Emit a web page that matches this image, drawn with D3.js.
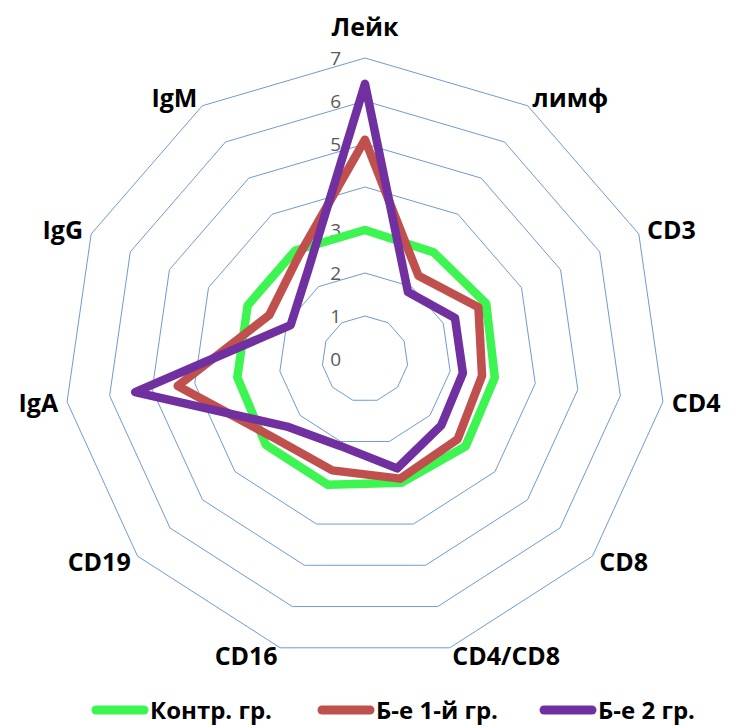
<!DOCTYPE html>
<html>
<head>
<meta charset="utf-8">
<script src="https://cdn.jsdelivr.net/npm/d3@7"></script>
<style>
  html, body { margin: 0; padding: 0; background: #fff; }
  svg { display: block; }
</style>
</head>
<body>
<svg id="chart" width="732" height="725"></svg>
<script>
const categories = ["Лейк", "лимф", "CD3", "CD4", "CD8", "CD4/CD8", "CD16", "CD19", "IgA", "IgG", "IgM"];
const seriesNames = ["Контр. гр.", "Б-е 1-й гр.", "Б-е 2 гр."];
const control = [3.0, 2.95, 3.1, 3.05, 3.1, 3.0, 3.05, 3.05, 3.0, 3.0, 3.0];
const group1  = [5.1, 2.3, 2.9, 2.75, 2.85, 2.9, 2.7, 2.8, 4.4, 2.45, 2.85];
const group2  = [6.4, 1.85, 2.3, 2.3, 2.35, 2.65, 2.1, 2.4, 5.4, 1.9, 2.45];
const tickValues = [0, 1, 2, 3, 4, 5, 6, 7];
const colors = ["#3cf550", "#c0504d", "#7030a0"];

const svg = d3.select("#chart");
const cx = 365, cy = 359, R = 301;
const n = categories.length;
const r = d3.scaleLinear().domain([0, 7]).range([0, R]);
const angle = d3.scaleLinear().domain([0, n]).range([0, 2 * Math.PI]);
const fontFam = "'Open Sans', 'DejaVu Sans', sans-serif";

const g = svg.append("g").attr("transform", `translate(${cx},${cy})`);

// grid rings
const ringLine = d3.lineRadial().curve(d3.curveLinearClosed);
tickValues.filter(t => t > 0).forEach(t => {
  g.append("path")
    .attr("d", ringLine(categories.map((c, i) => [angle(i), r(t)])))
    .attr("fill", "none")
    .attr("stroke", "#6f9bd3")
    .attr("stroke-width", 1);
});

// tick labels
g.selectAll("text.tick").data(tickValues).join("text")
  .attr("class", "tick")
  .attr("x", -24)
  .attr("y", d => -r(d))
  .attr("dy", "0.36em")
  .attr("text-anchor", "end")
  .attr("font-family", fontFam)
  .attr("font-size", 19)
  .attr("fill", "#595959")
  .text(d => d);

// series
const seriesData = [control, group1, group2];
const line = d3.lineRadial()
  .angle((d, i) => angle(i))
  .radius(d => r(d))
  .curve(d3.curveLinearClosed);
seriesData.forEach((s, k) => {
  g.append("path")
    .attr("d", line(s))
    .attr("fill", "none")
    .attr("stroke", colors[k])
    .attr("stroke-width", 8.5)
    .attr("stroke-linejoin", "round");
});

// category labels
categories.forEach((c, i) => {
  const a = angle(i);
  const s = Math.sin(a), co = Math.cos(a);
  const lr = 310;
  let x = lr * s, y = -lr * co;
  let anchor = "middle";
  if (s > 0.01) anchor = "start";
  else if (s < -0.01) anchor = "end";
  if (Math.abs(s) <= 0.01) y -= 22;
  g.append("text")
    .attr("x", x)
    .attr("y", y)
    .attr("dy", "0.36em")
    .attr("text-anchor", anchor)
    .attr("font-family", fontFam)
    .attr("font-weight", "bold")
    .attr("font-size", 25)
    .attr("fill", "#000")
    .text(c);
});

// legend
const legendY = 710;
const legendX = [92, 318, 540];
seriesNames.forEach((name, k) => {
  const lg = svg.append("g").attr("transform", `translate(${legendX[k]},${legendY})`);
  lg.append("line")
    .attr("x1", 4).attr("x2", 52)
    .attr("y1", 0).attr("y2", 0)
    .attr("stroke", colors[k])
    .attr("stroke-width", 9)
    .attr("stroke-linecap", "round");
  lg.append("text")
    .attr("x", 58)
    .attr("y", 0)
    .attr("dy", "0.36em")
    .attr("font-family", fontFam)
    .attr("font-weight", "bold")
    .attr("font-size", 24)
    .attr("fill", "#000")
    .text(name);
});
</script>
</body>
</html>
